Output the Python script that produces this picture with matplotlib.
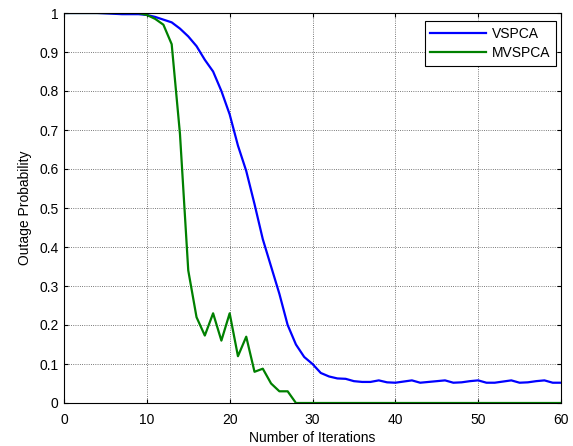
import numpy as np
import matplotlib
matplotlib.use("Agg")
from matplotlib import pyplot as plt

plt.rcParams['font.family'] = ['Liberation Sans', 'DejaVu Sans']
plt.rcParams['font.size'] = 10

iterations = np.arange(0, 61)

vspca = [1.0, 1.0, 1.0, 1.0, 1.0, 0.999, 0.998, 0.997, 0.997, 0.997,
         0.995, 0.99, 0.983, 0.976, 0.96, 0.94, 0.915, 0.88, 0.85, 0.80,
         0.74, 0.66, 0.595, 0.51, 0.42, 0.35, 0.28, 0.20, 0.15, 0.118,
         0.10, 0.077, 0.068, 0.063, 0.062, 0.056, 0.054, 0.054, 0.058, 0.053,
         0.052, 0.055, 0.058, 0.052, 0.054, 0.056, 0.058, 0.052, 0.053, 0.056,
         0.058, 0.052, 0.052, 0.055, 0.058, 0.052, 0.053, 0.056, 0.058, 0.052,
         0.052]

mvspca = [1.0, 1.0, 1.0, 1.0, 1.0, 1.0, 1.0, 1.0, 1.0, 1.0,
          0.995, 0.985, 0.97, 0.92, 0.69, 0.34, 0.22, 0.173, 0.23, 0.16,
          0.23, 0.12, 0.17, 0.08, 0.088, 0.05, 0.03, 0.03] + [0.0] * 33

fig = plt.figure(figsize=(5.73, 4.46), dpi=100)
ax = fig.add_axes([64 / 573, 1 - 403 / 446, (561 - 64) / 573, (403 - 13) / 446])

ax.plot(iterations, vspca, color=(0, 0, 1), lw=1.6, label='VSPCA')
ax.plot(iterations, mvspca, color=(0, 0.5, 0), lw=1.6, label='MVSPCA')

ax.set_xlim(0, 60)
ax.set_ylim(0, 1)
ax.set_xticks(np.arange(0, 61, 10))
ax.set_yticks(np.arange(0, 1.01, 0.1))
ax.set_yticklabels(['0', '0.1', '0.2', '0.3', '0.4', '0.5', '0.6', '0.7', '0.8', '0.9', '1'])
ax.tick_params(direction='in', length=3, top=True, right=True, colors='black')
ax.tick_params(axis='x', pad=7)
ax.tick_params(axis='y', pad=4)
ax.grid(True, linestyle=':', color='0.3', linewidth=0.6)
for s in ax.spines.values():
    s.set_linewidth(0.8)

ax.set_xlabel('Number of Iterations', labelpad=3)
ax.set_ylabel('Outage Probability', labelpad=5)

# legend box pinned near the top-right corner like the original
leg = ax.legend(loc='upper right', bbox_to_anchor=(0.990, 0.979), borderaxespad=0,
                fancybox=False, edgecolor='black', framealpha=1,
                handlelength=4.0, handletextpad=0.45, labelspacing=0.4, fontsize=10)
leg.get_frame().set_linewidth(0.8)

plt.savefig('out.png', dpi=100)
